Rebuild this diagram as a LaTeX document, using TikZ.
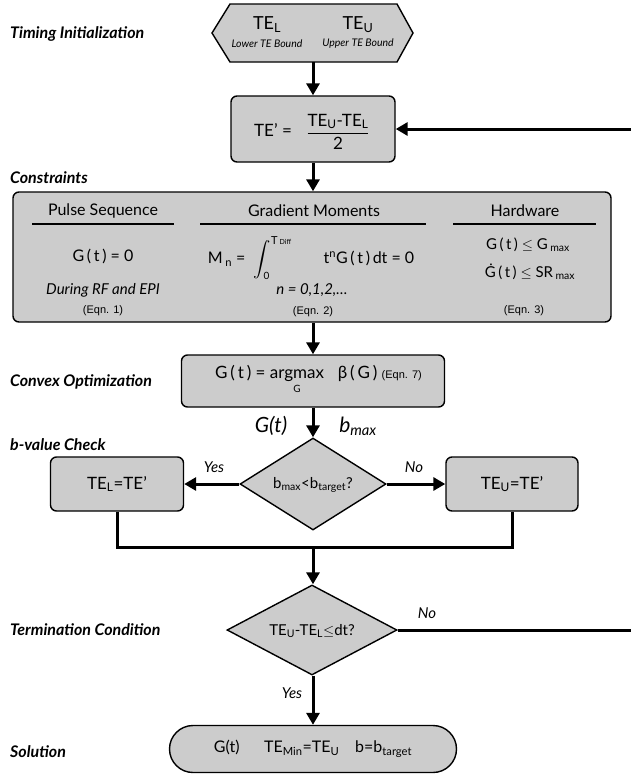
\documentclass[tikz,border=0pt]{standalone}
\usepackage{fontspec}
\setmainfont{Lato}
\newfontfamily\arialf{Liberation Sans}
\usepackage{amsmath}
\usepackage{exscale}
\usetikzlibrary{arrows.meta,shapes.geometric,shapes.misc}
\newcommand{\myfs}[1]{\fontsize{#1}{#1}\selectfont}
\definecolor{boxgray}{gray}{0.80}
\tikzset{
  box/.style={draw, fill=boxgray, line width=1.4pt, rounded corners=6pt, inner sep=0pt, align=center, font=\myfs{17}},
  dia/.style={draw, fill=boxgray, line width=1.4pt, diamond, inner sep=0pt, align=center, font=\myfs{16}},
  flow/.style={line width=3pt, -{Triangle[length=12pt,width=13pt]}},
  plainline/.style={line width=3pt},
  lab/.style={anchor=west, inner sep=0pt, font=\myfs{16}\bfseries\itshape},
  head/.style={inner sep=0pt, font=\myfs{16}},
  eqn/.style={inner sep=0pt, font=\arialf\myfs{11}},
  txt/.style={inner sep=0pt, font=\myfs{15}},
  yn/.style={inner sep=0pt, font=\myfs{15}\itshape},
  uline/.style={line width=1.4pt}
}
\begin{document}
\begin{tikzpicture}[x=1pt,y=-1pt]
\useasboundingbox (0,0) rectangle (631,774);

% left labels
\node[lab] (l1) at (10,34) {Timing Initialization};
\node[lab] (l2) at (10,178) {Constraints};
\node[lab] (l3) at (10,382) {Convex Optimization};
\node[lab] (l4) at (10,445) {b-value Check};
\node[lab] (l5) at (10,630) {Termination Condition};
\node[lab] (l6) at (10,752) {Solution};

% hexagon
\draw[fill=boxgray, line width=1.4pt] (212,33) -- (230,4) -- (397,4) -- (413,33) -- (397,62) -- (230,62) -- cycle;
\node[minimum width=200pt, minimum height=58pt, inner sep=0pt] (hex) at (313,33) {};
\node[inner sep=0pt, font=\myfs{18}] (tel) at (267,25) {TE\textsubscript{L}};
\node[inner sep=0pt, font=\myfs{10.5}\itshape] (tell) at (267,44) {Lower TE Bound};
\node[inner sep=0pt, font=\myfs{18}] (teu) at (358,25) {TE\textsubscript{U}};
\node[inner sep=0pt, font=\myfs{10.5}\itshape] (teul) at (358,44) {Upper TE Bound};

% TE' box
\node[box, minimum width=164pt, minimum height=66pt] (tep) at (313,129) {};
\node[inner sep=0pt, font=\myfs{17}] (tepl) at (273,130) {TE' =};
\node[inner sep=0pt, font=\myfs{17}] (tepf) at (338,132) {\(\dfrac{\text{TE\textsubscript{U}-TE\textsubscript{L}}}{\text{2}}\)};

% constraints box
\node[box, minimum width=598pt, minimum height=130pt] (cons) at (312,257) {};
\node[head] (h1) at (103,211) {Pulse Sequence};
\node[head] (h2) at (314,211) {Gradient Moments};
\node[head] (h3) at (525,211) {Hardware};
\draw[uline] (32,224) -- (174,224);
\draw[uline] (200,224) -- (426,224);
\draw[uline] (453,224) -- (596,224);
\node[txt, font=\myfs{16}] (c1) at (103,256) {G\,(\,t\,) = 0};
\node[txt, font=\myfs{15}\itshape] (c1b) at (103,290) {During RF and EPI};
\node[eqn] (e1) at (103,311) {(Eqn. 1)};
\node[txt, font=\myfs{16}] (c2) at (311,258) {M\,\textsubscript{n} = \;\(\displaystyle\int_{\text{\myfs{10}0}}^{\text{\myfs{11}T}\,\text{\myfs{7}Diff}}\)\qquad t\textsuperscript{n}G\,(\,t\,)\,dt = 0};
\node[txt, font=\myfs{15}\itshape] (c2b) at (312,290) {n = 0,1,2,\ldots};
\node[eqn] (e2) at (313,312) {(Eqn. 2)};
\node[txt, font=\myfs{15}] (c3) at (528,245) {G\,(\,t\,) \(\leq\) G\,\textsubscript{max}};
\node[txt, font=\myfs{15}] (c3b) at (530,272) {Ġ\,(\,t\,) \(\leq\) SR\,\textsubscript{max}};
\node[eqn] (e3) at (524,311) {(Eqn. 3)};

% convex optimization
\node[box, minimum width=263pt, minimum height=52pt] (conv) at (313,381) {};
\node[txt, font=\myfs{17}, anchor=west] (convt) at (215,380) {G\,(\,t\,) = \(\underset{\text{\myfs{10}G}}{\text{argmax}}\)\;\; β\,(\,G\,) {\arialf\myfs{11}(Eqn. 7)}};

% G(t) and bmax labels
\node[inner sep=0pt, font=\myfs{21}\itshape] (gt) at (271,426) {G(t)};
\node[inner sep=0pt, font=\myfs{21}\itshape] (bm) at (358,426) {b\textsubscript{max}};

% b-value check
\node[dia, minimum width=146pt, minimum height=92pt] (d1) at (313,484) {};
\node[inner sep=0pt, font=\myfs{15}] (d1t) at (313,485) {b\textsubscript{max}<b\textsubscript{target}?};
\node[box, minimum width=133pt, minimum height=54pt] (lb) at (117,484) {TE\textsubscript{L}=TE'};
\node[box, minimum width=132pt, minimum height=54pt] (rb) at (512,484) {TE\textsubscript{U}=TE'};
\node[yn] (yes1) at (214,467) {Yes};
\node[yn] (no1) at (414,467) {No};
\coordinate (merge) at (313,547);

% termination
\node[dia, minimum width=170pt, minimum height=90pt] (d2) at (312,630) {};
\node[inner sep=0pt, font=\myfs{15}] (d2t) at (312,631) {TE\textsubscript{U}-TE\textsubscript{L}\(\leq\)dt?};
\node[yn] (no2) at (427,613) {No};
\node[yn] (yes2) at (292,693) {Yes};

% solution
\node[draw, fill=boxgray, line width=1.4pt, rounded rectangle, minimum width=287pt, minimum height=47pt, inner sep=0pt, font=\myfs{16}] (sol) at (313,749) {G(t)\quad\; TE\textsubscript{Min}=TE\textsubscript{U}\quad b=b\textsubscript{target}};

% feedback ends
\coordinate (fbin) at (631,129);
\coordinate (fbout) at (631,630);

% connectors
\draw[flow] (hex.south) -- (tep.north);
\draw[flow] (fbin) -- (tep.east);
\draw[flow] (tep.south) -- (cons.north -| tep.south);
\draw[flow] (cons.south -| conv.north) -- (conv.north);
\draw[flow] (conv.south) -- (d1.north);
\draw[flow] (d1.west) -- (lb.east);
\draw[flow] (d1.east) -- (rb.west);
\draw[plainline] (lb.south) -- (lb.south |- merge) -- (rb.south |- merge) -- (rb.south);
\draw[flow] (merge) -- (d2.north -| merge);
\draw[plainline] (d2.east) -- (fbout);
\draw[flow] (d2.south -| sol.north) -- (sol.north);
\end{tikzpicture}
\end{document}
